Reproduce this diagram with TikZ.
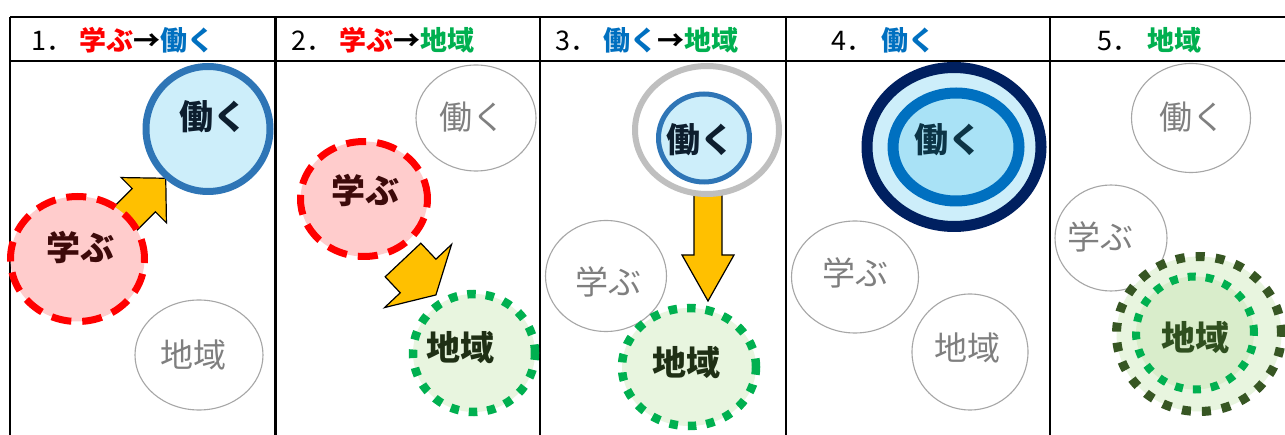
\documentclass[tikz,border=0pt]{standalone}
\usepackage{fontspec}
\newfontfamily\jp{Noto Sans CJK JP}
\usetikzlibrary{shapes.geometric}
\definecolor{hred}{HTML}{FF0000}
\definecolor{hblue}{HTML}{0070C0}
\definecolor{hgreen}{HTML}{00B050}
\definecolor{workline}{HTML}{2E75B6}
\definecolor{workfill}{HTML}{CDEEFA}
\definecolor{workfilldeep}{HTML}{A9E2F6}
\definecolor{navy}{HTML}{002060}
\definecolor{learnfill}{HTML}{FFCCCC}
\definecolor{regfill}{HTML}{E8F5DF}
\definecolor{regfilldeep}{HTML}{D9EDCB}
\definecolor{darkgreen}{HTML}{375623}
\definecolor{grayline}{HTML}{A6A6A6}
\definecolor{grayring}{HTML}{BFBFBF}
\definecolor{graytext}{HTML}{7F7F7F}
\definecolor{arrowfill}{HTML}{FFC000}
\definecolor{txtwork}{HTML}{0D1E2E}
\definecolor{txtlearn}{HTML}{3D0A0A}
\definecolor{txtreg}{HTML}{1F2F15}
\definecolor{txtreg5}{HTML}{2F4F1F}
\definecolor{txtwork4}{HTML}{0C3446}
\tikzset{
  sz/.style 2 args={minimum width=#1, minimum height=#2},
  oval/.style={ellipse, inner sep=0pt, outer sep=0pt},
  grayc/.style={oval, draw=grayline, line width=1.1, fill=white},
  workc/.style={oval, draw=workline, line width=7, fill=workfill},
  learnc/.style={oval, draw=hred, line width=7, fill=learnfill, dash pattern=on 20 off 11},
  regc/.style={oval, draw=hgreen, line width=8.5, fill=regfill, dash pattern=on 8.5 off 10},
  lblbold/.style={inner sep=0pt, font=\jp\bfseries\fontsize{34}{34}\selectfont},
  lblgray/.style={inner sep=0pt, text=graytext, font=\jp\fontsize{33}{33}\selectfont},
  head/.style={inner sep=0pt, anchor=base west, font=\jp\fontsize{27}{27}\selectfont},
  gridline/.style={line width=2.6, black},
  blockarrow/.style={fill=arrowfill, draw=black, line width=1.2, line join=miter},
}
% #1,#2 tail point, #3 angle, #4 length, #5 shaft half width, #6 head half width, #7 head length
\newcommand{\fatarrow}[7]{%
  \begin{scope}[shift={(#1,#2)}, rotate=#3]
    \draw[blockarrow] (0,-#5) -- ({#4-#7},-#5) -- ({#4-#7},-#6) -- (#4,0)
      -- ({#4-#7},#6) -- ({#4-#7},#5) -- (0,#5) -- cycle;
  \end{scope}}
\begin{document}
\begin{tikzpicture}[x=1pt, y=-1pt]
\useasboundingbox[fill=white] (0,0) rectangle (1285,435);

% ---------- table ----------
\coordinate (tl) at (10,17);
\coordinate (tr) at (1285,17);
\coordinate (hl) at (10,61);
\coordinate (hr) at (1285,61);
\draw[gridline] (tl) -- (tr);
\draw[gridline] (hl) -- (hr);
\foreach \xx/\nm in {10/a,275.5/b,540/c,786/d,1050/e}{
  \coordinate (top\nm) at (\xx,17);
  \coordinate (bot\nm) at (\xx,435);
  \draw[gridline] (top\nm) -- (bot\nm);
}

% ---------- headers ----------
\node[head] (h1) at (31,51) {1．\hspace{6pt}{\bfseries\color{hred}学ぶ}{\bfseries→}{\bfseries\color{hblue}働く}};
\node[head] (h2) at (291,51) {2．\hspace{6pt}{\bfseries\color{hred}学ぶ}{\bfseries→}{\bfseries\color{hgreen}地域}};
\node[head] (h3) at (555,51) {3．\hspace{6pt}{\bfseries\color{hblue}働く}{\bfseries→}{\bfseries\color{hgreen}地域}};
\node[head] (h4) at (831,51) {4．\hspace{8pt}{\bfseries\color{hblue}働く}};
\node[head] (h5) at (1097,51) {5．\hspace{8pt}{\bfseries\color{hgreen}地域}};

% ---------- panel 1 ----------
\fatarrow{112}{232}{45}{76}{16.5}{32}{31}
\node[grayc, sz={128}{110}] (r1) at (199,355) {};
\node[lblgray] (tr1) at (193,355) {地域};
\node[workc, sz={124}{125}] (w1) at (208,129) {};
\node[lblbold, text=txtwork] (tw1) at (213,117) {働く};
\node[learnc, sz={134}{125}] (l1) at (77.5,259) {};
\node[lblbold, text=txtlearn] (tl1) at (80,247) {学ぶ};

% ---------- panel 2 ----------
\fatarrow{403}{260}{-46.7}{48}{24.5}{46}{26}
\node[grayc, sz={120}{106}] (w2) at (476,118) {};
\node[lblgray] (tw2) at (472,117) {働く};
\node[learnc, sz={127}{115}] (l2) at (364,199) {};
\node[lblbold, text=txtlearn] (tl2) at (365,190) {学ぶ};
\node[regc, sz={122}{118}] (r2) at (474,353) {};
\node[lblbold, text=txtreg] (tr2) at (460,348) {地域};

% ---------- panel 3 ----------
\fatarrow{708}{185}{-90}{116}{14}{26}{46}
\node[oval, draw=grayring, line width=6, fill=white, sz={144}{128}] (g3) at (707,130) {};
\node[oval, draw=workline, line width=5, fill=workfill, sz={91}{88}] (w3) at (704,138) {};
\node[lblbold, text=txtwork] (tw3) at (700,140) {働く};
\node[grayc, sz={121}{111}] (l3) at (606,276) {};
\node[lblgray] (tl3) at (608,282) {学ぶ};
\node[regc, sz={134}{118}] (r3) at (689,367) {};
\node[lblbold, text=txtreg] (tr3) at (686,363) {地域};

% ---------- panel 4 ----------
\node[oval, draw=navy, line width=11, fill=workfill, sz={174}{159}] (g4) at (954,147) {};
\node[oval, draw=hblue, line width=11, fill=workfilldeep, sz={126}{108}] (w4) at (956,147) {};
\node[lblbold, text=txtwork4] (tw4) at (948,140) {働く};
\node[grayc, sz={127}{112}] (l4) at (855,277) {};
\node[lblgray] (tl4) at (855,273) {学ぶ};
\node[grayc, sz={116}{116}] (r4) at (970,352) {};
\node[lblgray] (tr4) at (967,348) {地域};

% ---------- panel 5 ----------
\node[grayc, sz={119}{109}] (w5) at (1191,118) {};
\node[lblgray] (tw5) at (1192,117) {働く};
\node[grayc, sz={112}{106}] (l5) at (1111,238) {};
\node[lblgray] (tl5) at (1100,237) {学ぶ};
\node[oval, draw=darkgreen, line width=9, fill=regfill, dash pattern=on 9 off 11, sz={165}{155}] (g5) at (1199,334) {};
\node[oval, draw=hgreen, line width=8, fill=regfilldeep, dash pattern=on 8 off 10, sz={118}{113}] (r5) at (1195,333) {};
\node[lblbold, text=txtreg5] (tr5) at (1195,338) {地域};
\end{tikzpicture}
\end{document}
